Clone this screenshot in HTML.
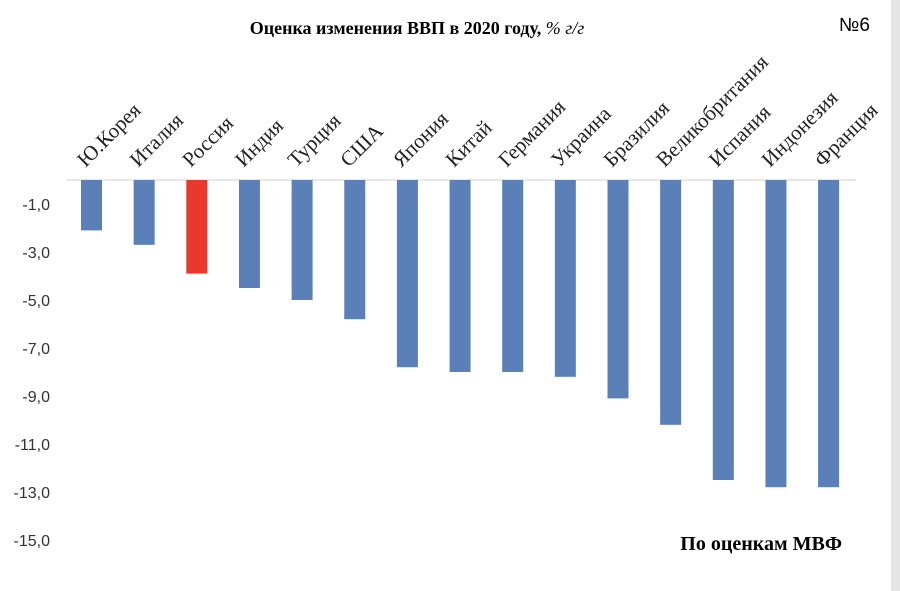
<!DOCTYPE html>
<html><head><meta charset="utf-8"><style>
body{margin:0;background:#fff;width:900px;height:591px;overflow:hidden;position:relative;font-family:"Liberation Serif",serif}
</style></head><body>
<div style="position:absolute;left:891px;top:0;width:9px;height:591px;background:#e6e6e6"></div>
<svg id="c" width="900" height="591" style="position:absolute;left:0;top:0">
<text x="417" y="34" text-anchor="middle" font-size="18" font-weight="bold" font-family="Liberation Serif,serif">Оценка изменения ВВП в 2020 году, <tspan font-style="italic" font-weight="normal">% г/г</tspan></text>
<text x="870" y="31" text-anchor="end" font-size="19" font-family="Liberation Sans,sans-serif">№6</text>
<text x="842" y="550" text-anchor="end" font-size="20" font-weight="bold" font-family="Liberation Serif,serif">По оценкам МВФ</text>
</svg>
<script>
const categories=["Ю.Корея","Италия","Россия","Индия","Турция","США","Япония","Китай","Германия","Украина","Бразилия","Великобритания","Испания","Индонезия","Франция"];
const values=[-2.1,-2.7,-3.9,-4.5,-5.0,-5.8,-7.8,-8.0,-8.0,-8.2,-9.1,-10.2,-12.5,-12.8,-12.8];
const highlight=["Россия"];
const ticks=[-1,-3,-5,-7,-9,-11,-13,-15];
const tickLabels=["-1,0","-3,0","-5,0","-7,0","-9,0","-11,0","-13,0","-15,0"];
const svg=document.getElementById('c');
const NS='http://www.w3.org/2000/svg';
function yS(v){return 180-24*v;}
function xS(i){return 91.5+i*52.65;}
function mk(t,a){const e=document.createElementNS(NS,t);for(const k in a)e.setAttribute(k,a[k]);svg.appendChild(e);return e;}
ticks.forEach((t,i)=>{const e=mk('text',{x:50,y:yS(t)+6,'text-anchor':'end','font-size':16,'font-family':'Liberation Sans,sans-serif',fill:'#333'});e.textContent=tickLabels[i];

});
const ax=mk('line',{x1:66,x2:856,y1:yS(0),y2:yS(0),stroke:'#d0d0d0','stroke-width':1});


categories.forEach((c,i)=>{const v=values[i];const cx=xS(i);
const r=mk('rect',{x:cx-10.5,y:yS(0),width:21,height:yS(v)-yS(0),fill:highlight.includes(c)?'#e8392c':'#5b80b8'});


const t=mk('text',{x:0,y:0,'font-size':21,'font-family':'Liberation Serif,serif',fill:'#222',transform:`translate(${cx-6},${yS(0)-12}) rotate(-45)`});t.textContent=c;

});
</script>
</body></html>
